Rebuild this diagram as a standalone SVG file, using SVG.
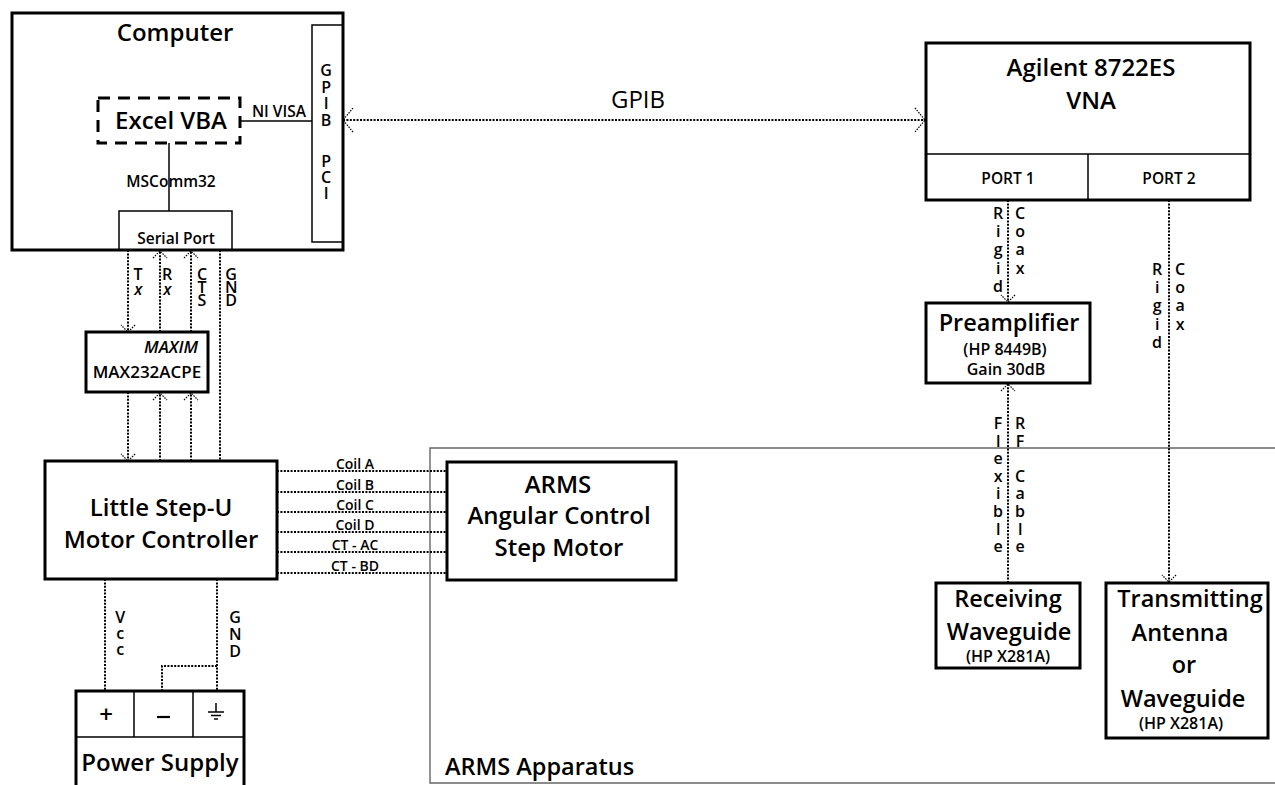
<svg xmlns="http://www.w3.org/2000/svg" width="1275" height="785" viewBox="0 0 1275 785">
<style>
.box{fill:none;stroke:#000;stroke-width:3}
.thin{fill:none;stroke:#000;stroke-width:1.5}
.dash{fill:none;stroke:#000;stroke-width:3;stroke-dasharray:12 8}
.dot{fill:none;stroke:#000;stroke-width:2;stroke-dasharray:2 1.4}
.app{fill:none;stroke:#666;stroke-width:1.4}
.t{font-family:"Open Sans","Liberation Sans",sans-serif;font-weight:600;fill:#000;text-anchor:middle}
.v{font-family:"Open Sans","Liberation Sans",sans-serif;font-weight:600;fill:#000;font-size:16px;writing-mode:vertical-rl;text-orientation:upright;text-anchor:start}
.s24{font-size:24px}
.s23{font-size:23.5px}
.s16{font-size:16px}
.s15{font-size:15.5px}
.s14{font-size:14px}
.s17{font-size:17px}
.it{font-style:italic}
</style>
<defs>
<marker id="a" viewBox="0 0 16 16" refX="15" refY="8" markerWidth="16" markerHeight="16" markerUnits="userSpaceOnUse" orient="auto-start-reverse">
<path d="M8,1 L15,8 L8,15" fill="none" stroke="#000" stroke-width="1.2" stroke-dasharray="1.5 1.2"/>
</marker>
<marker id="ab" viewBox="0 0 24 26" refX="23" refY="13" markerWidth="24" markerHeight="26" markerUnits="userSpaceOnUse" orient="auto-start-reverse">
<path d="M13,1 L23,13 L13,25" fill="none" stroke="#000" stroke-width="1.2" stroke-dasharray="1.5 1.2"/>
</marker>
</defs>
<rect width="1275" height="785" fill="#fff"/>

<g id="apparatus">
<path class="app" d="M1276,448 H430 V783 H1276"/>
<text class="t s23" x="445" y="775" style="text-anchor:start">ARMS Apparatus</text>
</g>

<g id="computer">
<rect class="box" x="12" y="13" width="331" height="237"/>
<text class="t s24" x="175" y="41">Computer</text>
</g>
<g id="gpib-pci">
<rect class="thin" x="312" y="25" width="31" height="217"/>
<text class="v" x="326" y="59" style="letter-spacing:-5.5px">GPIB</text>
<text class="v" x="326" y="150" style="letter-spacing:-5.8px">PCI</text>
</g>
<g id="excel">
<rect class="dash" x="98" y="98" width="142" height="45"/>
<text class="t s24" x="171" y="129">Excel VBA</text>
</g>
<g id="serial">
<rect class="thin" x="119" y="211" width="113" height="39"/>
<text class="t s15" x="176" y="244">Serial Port</text>
</g>
<g id="max232">
<rect class="box" x="86" y="332" width="122" height="60"/>
<text class="t s17 it" x="198" y="353" style="text-anchor:end">MAXIM</text>
<text class="t s17" x="147" y="378">MAX232ACPE</text>
</g>
<g id="stepu">
<rect class="box" x="45" y="461" width="232" height="118"/>
<text class="t s24" x="161" y="516">Little Step-U</text>
<text class="t s24" x="161" y="548">Motor Controller</text>
</g>
<g id="motor">
<rect class="box" x="447" y="462" width="229" height="118"/>
<text class="t s24" x="558" y="493">ARMS</text>
<text class="t s24" x="559" y="524">Angular Control</text>
<text class="t s24" x="559" y="556">Step Motor</text>
</g>
<g id="power">
<path class="box" d="M76,790 V691 H244 V790"/>
<path class="thin" d="M76,737 H244 M134,691 V737 M193,691 V737"/>
<text class="t s24" x="106" y="723">+</text>
<path d="M157,717 H170" stroke="#000" stroke-width="2.2"/>
<path class="thin" d="M216,703 V712 M208,712 H224 M211,715.5 H221 M214,719 H218"/>
<text class="t s24" x="160" y="771">Power Supply</text>
</g>
<g id="vna">
<rect class="box" x="926" y="43" width="324" height="157"/>
<path class="thin" d="M926,154 H1250 M1088,154 V200"/>
<text class="t s24" x="1091" y="76">Agilent 8722ES</text>
<text class="t s24" x="1091" y="109">VNA</text>
<text class="t s15" x="1008" y="184">PORT 1</text>
<text class="t s15" x="1169" y="184">PORT 2</text>
</g>
<g id="preamp">
<rect class="box" x="926" y="303" width="164" height="80"/>
<text class="t s23" x="1009" y="331">Preamplifier</text>
<text class="t s16" x="1005" y="355">(HP 8449B)</text>
<text class="t s16" x="1006" y="375">Gain 30dB</text>
</g>
<g id="receiving">
<rect class="box" x="936" y="583" width="144" height="85"/>
<text class="t s23" x="1008" y="607">Receiving</text>
<text class="t s23" x="1009" y="640">Waveguide</text>
<text class="t s16" x="1008" y="662">(HP X281A)</text>
</g>
<g id="transmitting">
<rect class="box" x="1106" y="583" width="162" height="155"/>
<text class="t s23" x="1190" y="607">Transmitting</text>
<text class="t s23" x="1180" y="641">Antenna</text>
<text class="t s23" x="1184" y="673">or</text>
<text class="t s23" x="1183" y="707">Waveguide</text>
<text class="t s16" x="1181" y="729">(HP X281A)</text>
</g>

<g id="connectors">
<path class="thin" d="M240,121 H312"/>
<text class="t s15" x="279" y="117">NI VISA</text>
<path class="thin" d="M169,143 V211"/>
<text class="t s15" x="171" y="187">MSComm32</text>
<path class="dot" d="M343,120 H925" marker-start="url(#ab)" marker-end="url(#ab)"/>
<text class="t s24" x="638" y="108" style="font-weight:500">GPIB</text>

<path class="dot" d="M128,250 V332" marker-end="url(#a)"/>
<path class="dot" d="M160,332 V251" marker-end="url(#a)"/>
<path class="dot" d="M191,332 V251" marker-end="url(#a)"/>
<path class="dot" d="M220,250 V461"/>
<path class="dot" d="M128,392 V461" marker-end="url(#a)"/>
<path class="dot" d="M160,461 V393" marker-end="url(#a)"/>
<path class="dot" d="M191,461 V393" marker-end="url(#a)"/>
<text class="v" x="138" y="263" style="letter-spacing:-6.8px">T<tspan class="it">x</tspan></text>
<text class="v" x="167" y="263" style="letter-spacing:-6.8px">R<tspan class="it">x</tspan></text>
<text class="v" x="202" y="263" style="letter-spacing:-8.8px">CTS</text>
<text class="v" x="231" y="263" style="letter-spacing:-8.8px">GND</text>

<path class="dot" d="M277,471 H447 M277,492 H447 M277,512 H447 M277,532 H447 M277,552 H447 M277,573 H447"/>
<text class="t s14" x="355" y="469">Coil A</text>
<text class="t s14" x="355" y="490">Coil B</text>
<text class="t s14" x="355" y="510">Coil C</text>
<text class="t s14" x="355" y="530">Coil D</text>
<text class="t s14" x="355" y="550">CT - AC</text>
<text class="t s14" x="355" y="571">CT - BD</text>

<path class="dot" d="M105,579 V691"/>
<path class="dot" d="M217,579 V691 M217,666 H162 V691"/>
<text class="v" x="120" y="606" style="letter-spacing:-5.8px">Vcc</text>
<text class="v" x="235" y="606" style="letter-spacing:-4.8px">GND</text>

<path class="dot" d="M1008,200 V302" marker-end="url(#a)"/>
<text class="v" x="998" y="202" style="letter-spacing:-3.8px">Rigid</text>
<text class="v" x="1020" y="202" style="letter-spacing:-3.8px">Coax</text>

<path class="dot" d="M1169,200 V582" marker-end="url(#a)"/>
<text class="v" x="1157" y="258" style="letter-spacing:-3.8px">Rigid</text>
<text class="v" x="1180" y="258" style="letter-spacing:-3.8px">Coax</text>

<path class="dot" d="M1008,583 V384" marker-end="url(#a)"/>
<text class="v" x="998" y="412" style="letter-spacing:-4.4px">Flexible</text>
<text class="v" x="1020" y="412" style="letter-spacing:-4.4px">RF Cable</text>
</g>
</svg>
